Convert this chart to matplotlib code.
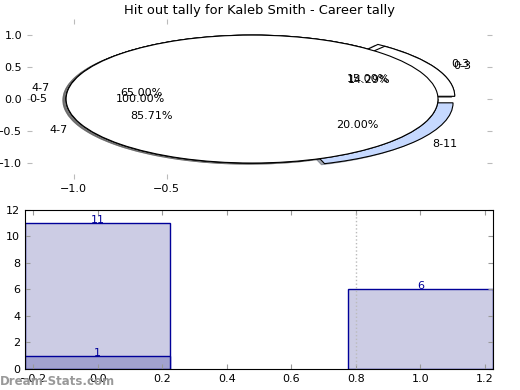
import matplotlib.pyplot as plt

# pie layers (the 100% pie sits on top of the other two)
pie1_labels = ['0-5']
pie1_values = [1]
pie2_labels = ['0-3', '4-7', '8-11']
pie2_values = [3, 13, 4]
pie3_labels = ['0-3', '4-7']
pie3_values = [1, 6]

# bar data
bar_x = [0, 1]
bar_totals = [11, 6]
bar_inner = [1]
xtick_vals = [-1.0, -0.5]

fig = plt.figure(figsize=(5.2, 3.9), dpi=100)
plt.rcParams['font.size'] = 8

ax1 = fig.add_axes([0.052, 0.541, 0.894, 0.41])
ax1.set_frame_on(False)
ctr = (-0.04, 0)
wp = dict(edgecolor='black', linewidth=0.8)
shad = dict(ox=-0.012, oy=-0.012, shade=0.6)
ax1.pie(pie2_values, labels=pie2_labels, autopct='%.2f%%',
        colors=['white', 'white', '#c6d9ff'], explode=[0.1, 0, 0.1],
        shadow=shad, center=ctr, wedgeprops=wp, frame=True)
ax1.pie(pie3_values, labels=pie3_labels, autopct='%.2f%%',
        colors=['white', 'white'], explode=[0.1, 0],
        shadow=shad, center=ctr, wedgeprops=wp, frame=True)
ax1.pie(pie1_values, labels=pie1_labels, autopct='%.2f%%', colors=['white'],
        shadow=shad, center=ctr, wedgeprops=wp, frame=True)
ax1.set_aspect('auto')
ax1.set_xlim(-1.25, 1.25)
ax1.set_ylim(-1.25, 1.25)
ax1.set_xticks(xtick_vals)
ax1.set_yticks([-1.0, -0.5, 0.0, 0.5, 1.0])
ax1.tick_params(direction='in', color='#bbbbbb', top=True, right=True, labelsize=8)
ax1.set_title('Hit out tally for Kaleb Smith - Career tally', fontsize=9.4, pad=4)

ax2 = fig.add_axes([0.048, 0.054, 0.9, 0.4077])
ax2.bar(bar_x, bar_totals, width=0.45, color='#ccccE4', edgecolor='#000099', linewidth=1)
ax2.bar(bar_x[:1], bar_inner, width=0.45, color='#a2a2cf', edgecolor='#000099', linewidth=1)
for x, v in zip(bar_x, bar_totals):
    ax2.annotate(str(v), (x, v), xytext=(0, 2.5), textcoords='offset points',
                 ha='center', va='center', color='#000099', fontsize=8)
for x, v in zip(bar_x, bar_inner):
    ax2.annotate(str(v), (x, v), xytext=(0, 2), textcoords='offset points',
                 ha='center', va='center', color='#000099', fontsize=8)
ax2.axvline(0.8, color='#bbbbbb', linestyle=':', linewidth=1)
ax2.set_xlim(-0.225, 1.225)
ax2.set_ylim(0, 12)
ax2.tick_params(direction='in', color='#999999', top=True, right=True, labelsize=8)

fig.text(0.0, 0.012, 'Dream-Stats.com', color='#999999', fontsize=8.5, fontweight='bold')

fig.savefig('out.png', dpi=100)
